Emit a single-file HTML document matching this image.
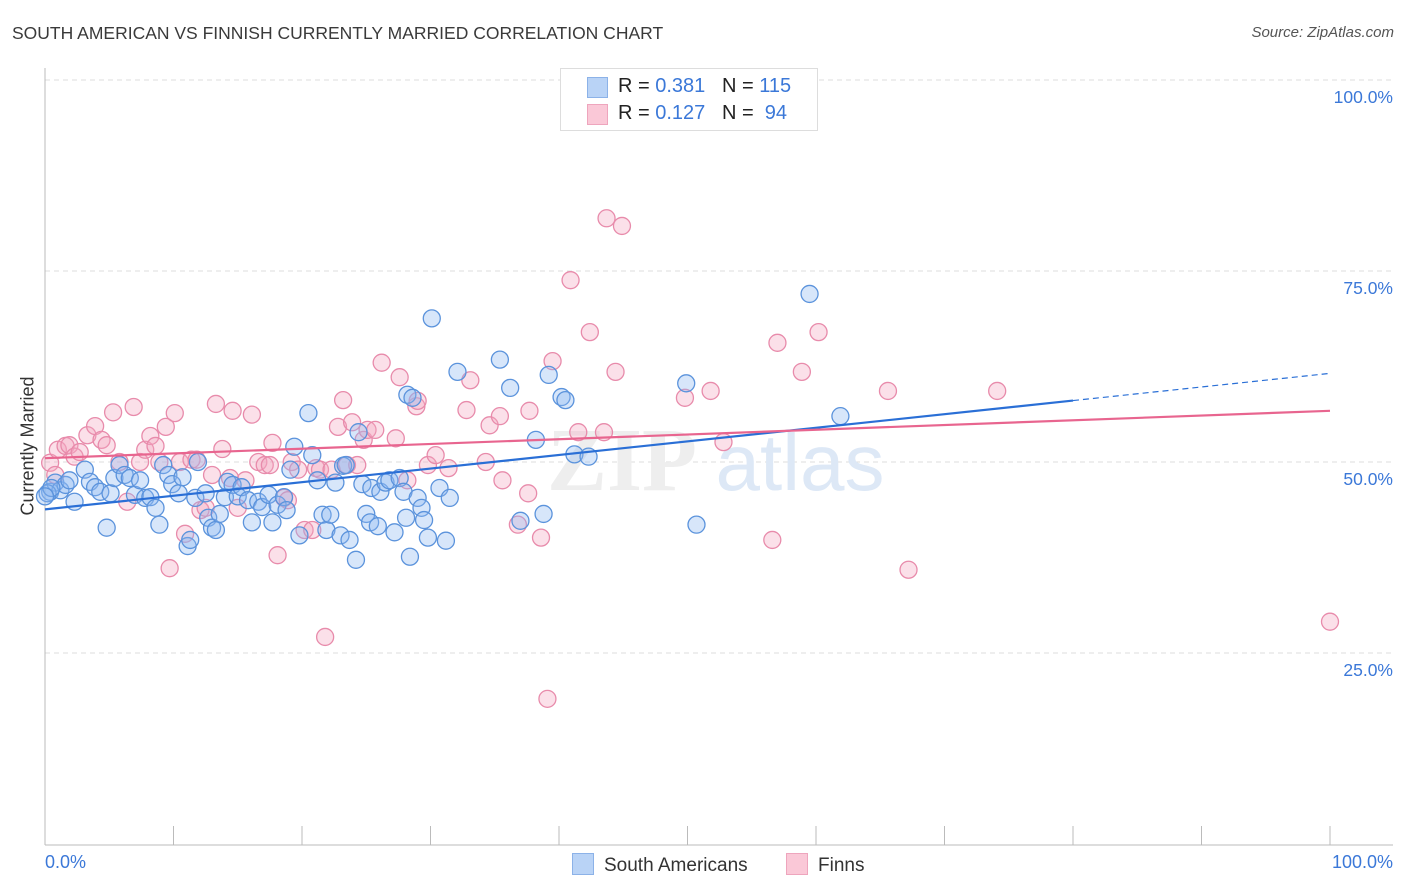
<!DOCTYPE html>
<html><head><meta charset="utf-8"><style>
body{margin:0;background:#fff;font-family:"Liberation Sans",sans-serif;}
#wrap{position:relative;width:1406px;height:892px;overflow:hidden;}
.t{position:absolute;white-space:nowrap;}
</style></head><body>
<div id="wrap">
<div class="t" style="left:12px;top:23px;font-size:17.5px;color:#3a3a3a;">SOUTH AMERICAN VS FINNISH CURRENTLY MARRIED CORRELATION CHART</div>
<div class="t" style="right:12px;top:24px;font-size:15px;color:#555;font-style:italic;">Source: ZipAtlas.com</div>
<svg id="svg" width="1406" height="892" style="position:absolute;left:0;top:0"></svg>
</div>
<script>
const yTicks=[25,50,75,100];
const yTickLabels=["25.0%","50.0%","75.0%","100.0%"];
const blueX=[0.4,0.8,1.2,1.6,1.9,2.3,3.1,3.5,3.9,4.3,4.8,5.1,5.4,5.8,6.2,6.6,7.0,7.4,7.8,8.2,8.6,8.9,9.2,9.6,9.9,10.4,10.7,11.1,11.3,11.7,11.9,12.5,12.7,13.0,13.3,13.6,14.0,14.2,14.6,15.0,15.3,15.8,16.1,16.6,16.9,17.4,17.7,18.1,18.6,18.8,19.1,19.4,19.8,20.5,20.8,21.2,21.6,21.9,22.2,22.6,23.0,23.2,23.4,23.7,24.2,24.4,24.7,25.0,25.3,25.4,25.9,26.1,26.5,26.8,27.2,27.6,27.9,28.1,28.2,28.4,28.6,29.0,29.3,29.5,29.8,30.1,30.7,31.2,31.5,32.1,35.4,36.2,37.0,38.2,38.8,39.2,40.2,40.5,41.2,42.3,49.9,50.7,59.5,61.9,0.2,0.5,0.0];
const blueY=[46.1,47.3,46.3,47.0,47.6,44.8,49.0,47.4,46.7,46.1,41.4,45.9,47.9,49.6,48.3,47.9,45.7,47.6,45.3,45.4,44.0,41.8,49.6,48.3,47.1,45.9,48.0,39.0,39.8,45.3,50.0,45.9,42.7,41.4,41.1,43.2,45.4,47.4,47.0,45.5,46.7,45.0,42.1,44.8,44.1,45.7,42.1,44.4,45.4,43.7,49.0,52.0,40.4,56.4,50.9,47.6,43.1,41.1,43.1,47.3,40.4,49.5,49.6,39.8,37.2,53.9,47.1,43.2,42.1,46.6,41.6,46.1,47.3,47.6,40.8,47.9,46.1,42.7,58.8,37.6,58.4,45.3,44.0,42.4,40.1,68.8,46.6,39.7,45.3,61.8,63.4,59.7,42.3,52.9,43.2,61.4,58.5,58.1,51.0,50.7,60.3,41.8,72.0,56.0,45.9,46.6,45.5];
const pinkX=[0.4,0.8,1.0,1.6,1.9,2.3,2.7,3.3,3.9,4.4,4.8,5.3,5.8,6.4,6.9,7.4,7.8,8.2,8.6,8.9,9.4,9.7,10.1,10.5,10.9,11.4,11.8,12.1,12.5,13.0,13.3,13.8,14.4,14.6,15.0,15.6,16.1,16.6,17.1,17.5,17.7,18.1,18.6,18.9,19.2,19.7,20.2,20.8,21.1,21.4,21.8,22.3,22.8,23.2,23.5,23.9,24.3,24.8,25.1,25.7,26.2,27.3,27.6,28.2,28.9,29.0,29.8,30.4,31.4,32.8,33.1,34.3,34.6,35.4,35.6,36.8,37.6,37.7,38.6,39.1,39.5,40.9,41.5,42.4,43.5,43.7,44.4,44.9,49.8,51.8,52.8,56.6,57.0,58.9,60.2,65.6,67.2,74.1,100];
const pinkY=[49.9,48.3,51.6,52.1,52.2,50.7,51.3,53.5,54.7,52.9,52.2,56.5,50.0,44.8,57.2,50.0,51.6,53.4,52.1,50.0,54.6,36.1,56.4,50.0,40.6,50.3,50.3,43.7,44.0,48.3,57.6,51.7,47.9,56.7,44.0,47.6,56.2,50.0,49.6,49.6,52.5,37.8,45.3,45.0,50.0,49.0,41.1,41.1,49.2,49.0,27.1,49.0,54.6,58.1,49.6,55.2,49.6,52.9,54.2,54.2,63.0,53.1,61.1,47.6,57.3,58.0,49.6,50.9,49.2,56.8,60.7,50.0,54.8,56.0,47.6,41.8,45.9,56.7,40.1,19.0,63.2,73.8,53.9,67.0,53.9,81.9,61.8,80.9,58.4,59.3,52.6,39.8,65.6,61.8,67.0,59.3,35.9,59.3,29.1];
const blueTrend=[43.8,0.178];
const pinkTrend=[50.5,0.062];

const X0=45,X1=1330,Y0=844,Y100=80;
const sx=v=>X0+(X1-X0)*v/100;
const sy=v=>Y0-(Y0-Y100)*v/100;
const svg=document.getElementById('svg');
const NS='http://www.w3.org/2000/svg';
function mk(tag,attrs,parent){const e=document.createElementNS(NS,tag);for(const k in attrs)e.setAttribute(k,attrs[k]);(parent||svg).appendChild(e);return e;}

yTicks.forEach((t,i)=>{
  const g=mk('line',{x1:X0,x2:1393,y1:sy(t),y2:sy(t),stroke:'#ddd','stroke-dasharray':'5,4','stroke-width':1});
  
  
  const tx=mk('text',{x:1393,y:sy(t)+23,'text-anchor':'end','font-size':17.5,fill:'#3b78d8','font-family':'Liberation Sans, sans-serif'});
  tx.textContent=yTickLabels[i];
  
  
});
const ya=mk('line',{x1:X0,x2:X0,y1:68,y2:845,stroke:'#bbb'});


const xa=mk('line',{x1:X0,x2:1393,y1:845,y2:845,stroke:'#bbb'});


for(let i=1;i<=10;i++){
  const tk=mk('line',{x1:sx(i*10),x2:sx(i*10),y1:826,y2:845,stroke:'#bbb'});
  
  
}
const wm=mk('text',{x:622,y:490,'text-anchor':'middle','font-size':90,fill:'#eeeeee','font-family':'Liberation Serif, serif','font-weight':'bold'});
wm.textContent='ZIP';


const wm2=mk('text',{x:800,y:490,'text-anchor':'middle','font-size':80,fill:'#dde8f6','font-family':'Liberation Sans, sans-serif'});
wm2.textContent='atlas';



function dots(xs,ys,fill,stroke,name){
  xs.forEach((x,i)=>{
    const c=mk('circle',{cx:sx(x),cy:sy(ys[i]),r:8.5,fill:fill,stroke:stroke,'stroke-width':1.3});
    
    
  });
}
dots(pinkX,pinkY,'rgba(244,165,192,0.35)','#e88bab','finns-point');
dots(blueX,blueY,'rgba(140,182,240,0.35)','#5b93dc','south-american-point');

const bl=mk('line',{x1:sx(0),y1:sy(blueTrend[0]),x2:sx(80),y2:sy(blueTrend[0]+blueTrend[1]*80),stroke:'#2a6fd6','stroke-width':2.2});


const bd=mk('line',{x1:sx(80),y1:sy(blueTrend[0]+blueTrend[1]*80),x2:sx(100),y2:sy(blueTrend[0]+blueTrend[1]*100),stroke:'#2a6fd6','stroke-width':1.2,'stroke-dasharray':'6,4'});


const pl=mk('line',{x1:sx(0),y1:sy(pinkTrend[0]),x2:sx(100),y2:sy(pinkTrend[0]+pinkTrend[1]*100),stroke:'#e8658f','stroke-width':2.2});


</script>
<div class="t" style="left:45px;top:852px;font-size:18px;color:#3b78d8;">0.0%</div>
<div class="t" style="right:13px;top:852px;font-size:18px;color:#3b78d8;">100.0%</div>
<div class="t" style="left:-32px;top:445px;font-size:18px;color:#333;transform:rotate(-90deg);transform-origin:center;width:120px;text-align:center;">Currently Married</div>
<div style="position:absolute;left:560px;top:68px;width:256px;height:61px;border:1px solid #ddd;background:#fff;font-size:20px;">
 <div style="position:absolute;left:26px;top:8px;width:19px;height:19px;background:#b9d3f6;border:1px solid #8cb2e8;"></div>
 <div class="t" style="left:57px;top:6px;color:#222;">R = <span style="color:#3b78d8">0.381</span>&nbsp;&nbsp;&nbsp;N = <span style="color:#3b78d8">115</span></div>
 <div style="position:absolute;left:26px;top:35px;width:19px;height:19px;background:#fac8d7;border:1px solid #eea5bd;"></div>
 <div class="t" style="left:57px;top:33px;color:#222;">R = <span style="color:#3b78d8">0.127</span>&nbsp;&nbsp;&nbsp;N = &nbsp;<span style="color:#3b78d8">94</span></div>
</div>
<div style="position:absolute;left:572px;top:853px;font-size:19px;color:#333;">
 <div style="position:absolute;left:0;top:0;white-space:nowrap;"><span style="display:inline-block;width:20px;height:20px;background:#b9d3f6;border:1px solid #8cb2e8;vertical-align:-4px;margin-right:10px;"></span>South Americans</div>
 <div style="position:absolute;left:214px;top:0;white-space:nowrap;"><span style="display:inline-block;width:20px;height:20px;background:#fac8d7;border:1px solid #eea5bd;vertical-align:-4px;margin-right:10px;"></span>Finns</div>
</div>
</body></html>
